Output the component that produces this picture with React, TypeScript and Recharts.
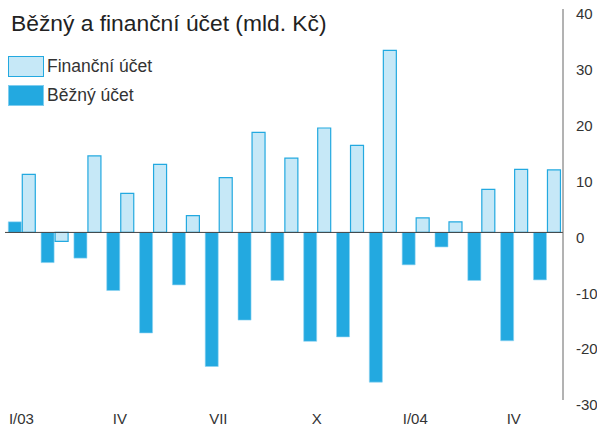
import { BarChart, Bar, XAxis, YAxis, ReferenceLine } from "recharts";

const months = ["2003-01", "2003-02", "2003-03", "2003-04", "2003-05", "2003-06", "2003-07", "2003-08", "2003-09", "2003-10", "2003-11", "2003-12", "2004-01", "2004-02", "2004-03", "2004-04", "2004-05"];
const monthLabels = ["I/03", "", "", "IV", "", "", "VII", "", "", "X", "", "", "I/04", "", "", "IV", ""];
const bezny = [1.9, -5.4, -4.6, -10.4, -18.0, -9.4, -24.0, -15.7, -8.6, -19.5, -18.7, -26.8, -5.8, -2.6, -8.6, -19.4, -8.5];
const financni = [10.4, -1.6, 13.7, 7.0, 12.2, 3.0, 9.8, 17.9, 13.3, 18.7, 15.6, 32.6, 2.6, 1.9, 7.7, 11.3, 11.2];
const yTicks = [-30, -20, -10, 0, 10, 20, 30, 40];

const DARK = "#23a9e0";
const LIGHT = "#c6e8f7";
const FONT = "'Liberation Sans', Arial, sans-serif";

const data = months.map((m, i) => ({
    month: m,
    label: monthLabels[i],
    bezny: bezny[i],
    financni: financni[i],
}));

function YTick(props: any) {
    const { x, y, payload } = props;
    return (
        <text x={x + 5} y={y + 5} dy="0.35em" textAnchor="start" fontSize={15} fill="#333" fontFamily={FONT}>
            {payload.value}
        </text>
    );
}

function ChartLegend() {
    return (
        <div style={{ position: "absolute", left: 8, top: 56, fontFamily: FONT, fontSize: 17.5, color: "#333" }}>
            <div style={{ display: "flex", alignItems: "center", height: 21 }}>
                <span style={{ display: "inline-block", width: 34, height: 19, background: LIGHT, border: "1px solid " + DARK, marginRight: 3 }} />
                Finanční účet
            </div>
            <div style={{ display: "flex", alignItems: "center", height: 21, marginTop: 8 }}>
                <span style={{ display: "inline-block", width: 34, height: 19, background: DARK, border: "1px solid #7fcdef", marginRight: 3 }} />
                Běžný účet
            </div>
        </div>
    );
}

export default function App() {
    return (
        <div style={{ position: "absolute", left: 0, top: 0, width: 597, height: 430, background: "#fff" }}>
            <BarChart width={597} height={430} data={data}
                margin={{ top: 9, right: 0, left: 5, bottom: 0 }}
                barCategoryGap="10%" barGap={1}>
                <XAxis dataKey="month" axisLine={false} tickLine={false} tickSize={0} tickMargin={13} height={30}
                    interval={0} tickFormatter={(v: string, i: number) => monthLabels[i]}
                    tick={{ fontSize: 15, fill: "#333", fontFamily: FONT }} />
                <YAxis orientation="right" width={34} domain={[-30, 40]} ticks={yTicks} interval={0}
                    axisLine={{ stroke: "#666", strokeWidth: 1 }} tickLine={false} tick={<YTick />} />
                <Bar dataKey="bezny" fill={DARK} stroke="#8fd3f1" strokeWidth={0.6} isAnimationActive={false} />
                <Bar dataKey="financni" fill={LIGHT} stroke={DARK} strokeWidth={1.2} isAnimationActive={false} />
                <ReferenceLine y={0} stroke="#444" strokeWidth={1} />
            </BarChart>
            <div style={{ position: "absolute", left: 11, top: 10, fontFamily: FONT, fontSize: 22.8, color: "#222", whiteSpace: "nowrap" }}>
                Běžný a finanční účet (mld. Kč)
            </div>
            <ChartLegend />
        </div>
    );
}
